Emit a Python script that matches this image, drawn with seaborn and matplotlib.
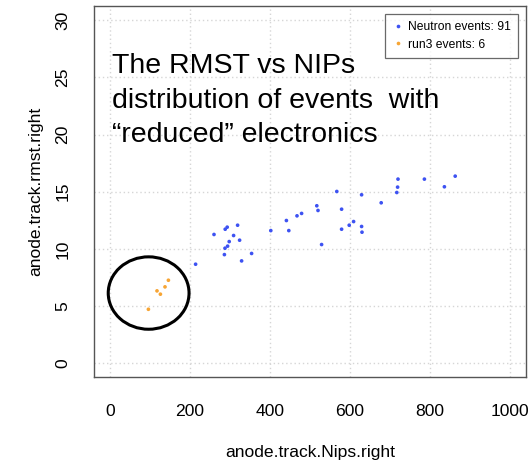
import matplotlib
matplotlib.use("Agg")
import matplotlib.pyplot as plt
from matplotlib.patches import Ellipse
import seaborn as sns
import pandas as pd

# ---- data ----
neutron_nips = [214, 260, 286, 287.5, 294, 298, 288, 293, 309, 319, 324, 329, 354,
                402, 441, 447, 467.5, 479, 517, 520, 529, 567, 579, 579, 598, 609,
                629, 629, 630, 678, 717, 719, 720, 786, 836, 863]
neutron_rmst = [8.66, 11.26, 9.5, 10.06, 10.24, 10.64, 11.72, 11.9, 11.17, 12.07, 10.76,
                8.95, 9.6, 11.6, 12.48, 11.6, 12.89, 13.1, 13.77, 13.36, 10.38, 15.02,
                13.47, 11.72, 12.07, 12.39, 14.73, 11.96, 11.46, 14.03, 14.93, 15.4,
                16.1, 16.1, 15.43, 16.36]
run3_nips = [96, 117.5, 126, 137.5, 146]
run3_rmst = [4.72, 6.33, 6.04, 6.68, 7.26]

series_labels = ["Neutron events: 91", "run3 events: 6"]
x_ticks = [0, 200, 400, 600, 800, 1000]
y_ticks = [0, 5, 10, 15, 20, 25, 30]
x_label = "anode.track.Nips.right"
y_label = "anode.track.rmst.right"
note_lines = ["The RMST vs NIPs", "distribution of events  with", "\u201creduced\u201d electronics"]
circle_center = (96.6, 6.14)
circle_size = (202, 6.33)

df = pd.DataFrame({
    "nips": neutron_nips + run3_nips,
    "rmst": neutron_rmst + run3_rmst,
    "group": [series_labels[0]] * len(neutron_nips) + [series_labels[1]] * len(run3_nips),
})

sns.set_style("white")
plt.rcParams["font.family"] = ["Liberation Sans", "DejaVu Sans"]
plt.rcParams["text.color"] = "black"
plt.rcParams["axes.labelcolor"] = "black"
plt.rcParams["xtick.labelcolor"] = "black"
plt.rcParams["ytick.labelcolor"] = "black"

W, H = 528, 461
fig = plt.figure(figsize=(W / 100, H / 100), dpi=100)
ax = fig.add_axes([94 / W, 1 - 377 / H, (526 - 94) / W, (377 - 6.4) / H])

palette = {series_labels[0]: "#3d52f2", series_labels[1]: "#f7a534"}
sns.scatterplot(data=df, x="nips", y="rmst", hue="group", palette=palette,
                s=7, marker="o", linewidth=0, ax=ax, legend=True)

ax.set_xlim(-40, 1040)
ax.set_ylim(-1.2, 31.2)
ax.set_xticks(x_ticks)
ax.set_yticks(y_ticks)
ax.set_xticklabels([str(v) for v in x_ticks], fontsize=12.6)
ax.set_yticklabels([str(v) for v in y_ticks], fontsize=12.6, rotation=90, va="center")
ax.tick_params(direction="in", length=3.5, width=0.9, color="#555555")
ax.tick_params(axis="x", pad=19.5)
ax.tick_params(axis="y", pad=17)
ax.grid(True, color="#d6d6d6", linestyle=(0, (1, 2)), linewidth=1)
for sp in ax.spines.values():
    sp.set_visible(True)
    sp.set_color("#555555")
    sp.set_linewidth(1.0)

ax.set_xlabel(x_label, fontsize=12.6, labelpad=19)
ax.set_ylabel(y_label, fontsize=12.6, labelpad=9)

ax.add_patch(Ellipse(circle_center, circle_size[0], circle_size[1],
                     fill=False, edgecolor="black", linewidth=2.2, zorder=3))

baselines = [73.3, 108.3, 142.0]
for line, yb in zip(note_lines, baselines):
    fig.text(111.7 / W, 1 - yb / H, line, fontsize=20.5,
             va="baseline", ha="left", color="black")

leg = ax.legend(loc="upper right", bbox_to_anchor=(518 / W, 1 - 14 / H),
                bbox_transform=fig.transFigure, borderaxespad=0, fontsize=8.7,
                frameon=True, fancybox=False, handlelength=1.0, handletextpad=0.3,
                borderpad=0.6, labelspacing=0.45, markerscale=1.0, title=None)
leg.get_frame().set_edgecolor("#444444")
leg.get_frame().set_linewidth(0.9)

fig.savefig("out.png", dpi=100)
